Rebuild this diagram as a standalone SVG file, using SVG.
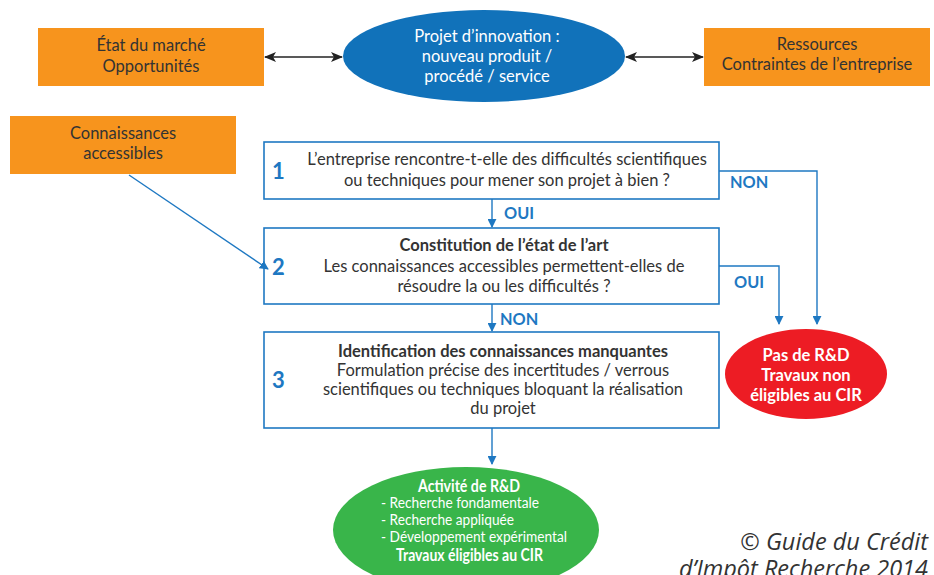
<svg xmlns="http://www.w3.org/2000/svg" width="934" height="575" viewBox="0 0 934 575">
<style>
text{font-family:Lato,"Open Sans","Liberation Sans",sans-serif;}
.org{fill:#F7941D;}
.dk{fill:#333;font-size:16.5px;text-anchor:middle;}
.wt{fill:#fff;font-size:16.5px;text-anchor:middle;}
.wb{fill:#fff;font-size:16.5px;font-weight:bold;text-anchor:middle;}
.gb{fill:#fff;font-size:16.5px;font-weight:bold;}
.box{fill:#fff;stroke:#1E78C2;stroke-width:1.6;}
.num{fill:#1E78C2;font-size:22px;font-weight:bold;}
.lbl{fill:#1E78C2;font-size:16.3px;font-weight:bold;}
.bl{fill:none;stroke:#1E78C2;stroke-width:1.4;}
.kl{fill:none;stroke:#222;stroke-width:1.4;}
.sm{fill:#fff;font-size:14.5px;}
.cp{fill:#333;font-family:"Open Sans",sans-serif;font-style:italic;font-size:23.5px;text-anchor:end;}
</style>
<defs>
<marker id="ab" viewBox="0 0 10 10" refX="9" refY="5" markerWidth="9" markerHeight="9" markerUnits="userSpaceOnUse" orient="auto"><path d="M0,0 L10,5 L0,10 Z" fill="#1E78C2"/></marker>
<marker id="ak" viewBox="0 0 12 10" refX="11" refY="5" markerWidth="12" markerHeight="10" markerUnits="userSpaceOnUse" orient="auto-start-reverse"><path d="M0,0 L12,5 L0,10 L3,5 Z" fill="#222"/></marker>
</defs>

<g id="marche">
<rect class="org" x="38" y="28" width="226" height="58"/>
<text class="dk" x="151" y="51">État du marché</text>
<text class="dk" x="151" y="72">Opportunités</text>
</g>
<g id="projet">
<ellipse cx="484" cy="56" rx="141" ry="46" fill="#1172BA"/>
<text class="wt" x="487" y="42">Projet d’innovation :</text>
<text class="wt" x="487" y="62">nouveau produit /</text>
<text class="wt" x="487" y="82">procédé / service</text>
</g>
<g id="ressources">
<rect class="org" x="704" y="28" width="226" height="58"/>
<text class="dk" x="817" y="50">Ressources</text>
<text class="dk" x="817" y="70">Contraintes de l’entreprise</text>
</g>
<g id="connaissances">
<rect class="org" x="10" y="116" width="226" height="58"/>
<text class="dk" x="123" y="139">Connaissances</text>
<text class="dk" x="123" y="159">accessibles</text>
</g>
<g id="etape1">
<rect class="box" x="264" y="142" width="455" height="57"/>
<text class="num" x="272" y="179">1</text>
<text class="dk" x="507" y="165">L’entreprise rencontre-t-elle des difficultés scientifiques</text>
<text class="dk" x="507" y="186">ou techniques pour mener son projet à bien ?</text>
</g>
<g id="etape2">
<rect class="box" x="264" y="228" width="455" height="76"/>
<text class="num" x="272" y="275">2</text>
<text class="dk" x="504" y="251" font-weight="bold">Constitution de l’état de l’art</text>
<text class="dk" x="504" y="272">Les connaissances accessibles permettent-elles de</text>
<text class="dk" x="504" y="292">résoudre la ou les difficultés ?</text>
</g>
<g id="etape3">
<rect class="box" x="264" y="332" width="455" height="96"/>
<text class="num" x="272" y="388">3</text>
<text class="dk" x="503" y="357" font-weight="bold">Identification des connaissances manquantes</text>
<text class="dk" x="503" y="376">Formulation précise des incertitudes / verrous</text>
<text class="dk" x="503" y="395">scientifiques ou techniques bloquant la réalisation</text>
<text class="dk" x="503" y="414">du projet</text>
</g>
<g id="pasrd">
<ellipse cx="806" cy="374" rx="81" ry="45" fill="#ED1C24"/>
<text class="wb" x="806" y="361">Pas de R&amp;D</text>
<text class="wb" x="806" y="381">Travaux non</text>
<text class="wb" x="806" y="401">éligibles au CIR</text>
</g>
<g id="activite">
<ellipse cx="466" cy="530" rx="133" ry="63" fill="#39B54A"/>
<text class="gb" x="418" y="492" textLength="102" lengthAdjust="spacingAndGlyphs">Activité de R&amp;D</text>
<text class="sm" x="381" y="508" textLength="158" lengthAdjust="spacingAndGlyphs">- Recherche fondamentale</text>
<text class="sm" x="381" y="525" textLength="133" lengthAdjust="spacingAndGlyphs">- Recherche appliquée</text>
<text class="sm" x="381" y="542" textLength="186" lengthAdjust="spacingAndGlyphs">- Développement expérimental</text>
<text class="gb" x="396" y="561" textLength="147" lengthAdjust="spacingAndGlyphs">Travaux éligibles au CIR</text>
</g>
<g id="connectors">
<line class="kl" x1="265" y1="57" x2="342" y2="57" marker-start="url(#ak)" marker-end="url(#ak)"/>
<line class="kl" x1="626" y1="57" x2="703" y2="57" marker-start="url(#ak)" marker-end="url(#ak)"/>
<line class="bl" x1="129" y1="175" x2="268" y2="269" marker-end="url(#ab)"/>
<line class="bl" x1="492" y1="199" x2="492" y2="227" marker-end="url(#ab)"/>
<text class="lbl" x="504" y="219">OUI</text>
<polyline class="bl" points="719,171 817,171 817,324" marker-end="url(#ab)"/>
<text class="lbl" x="730" y="188">NON</text>
<polyline class="bl" points="719,266 779,266 779,324" marker-end="url(#ab)"/>
<text class="lbl" x="734" y="288">OUI</text>
<line class="bl" x1="492" y1="304" x2="492" y2="331" marker-end="url(#ab)"/>
<text class="lbl" x="500" y="325">NON</text>
<line class="bl" x1="492" y1="428" x2="492" y2="464" marker-end="url(#ab)"/>
</g>
<g id="copyright">
<text class="cp" x="928" y="550">© Guide du Crédit</text>
<text class="cp" x="928" y="577">d’Impôt Recherche 2014</text>
</g>
</svg>
